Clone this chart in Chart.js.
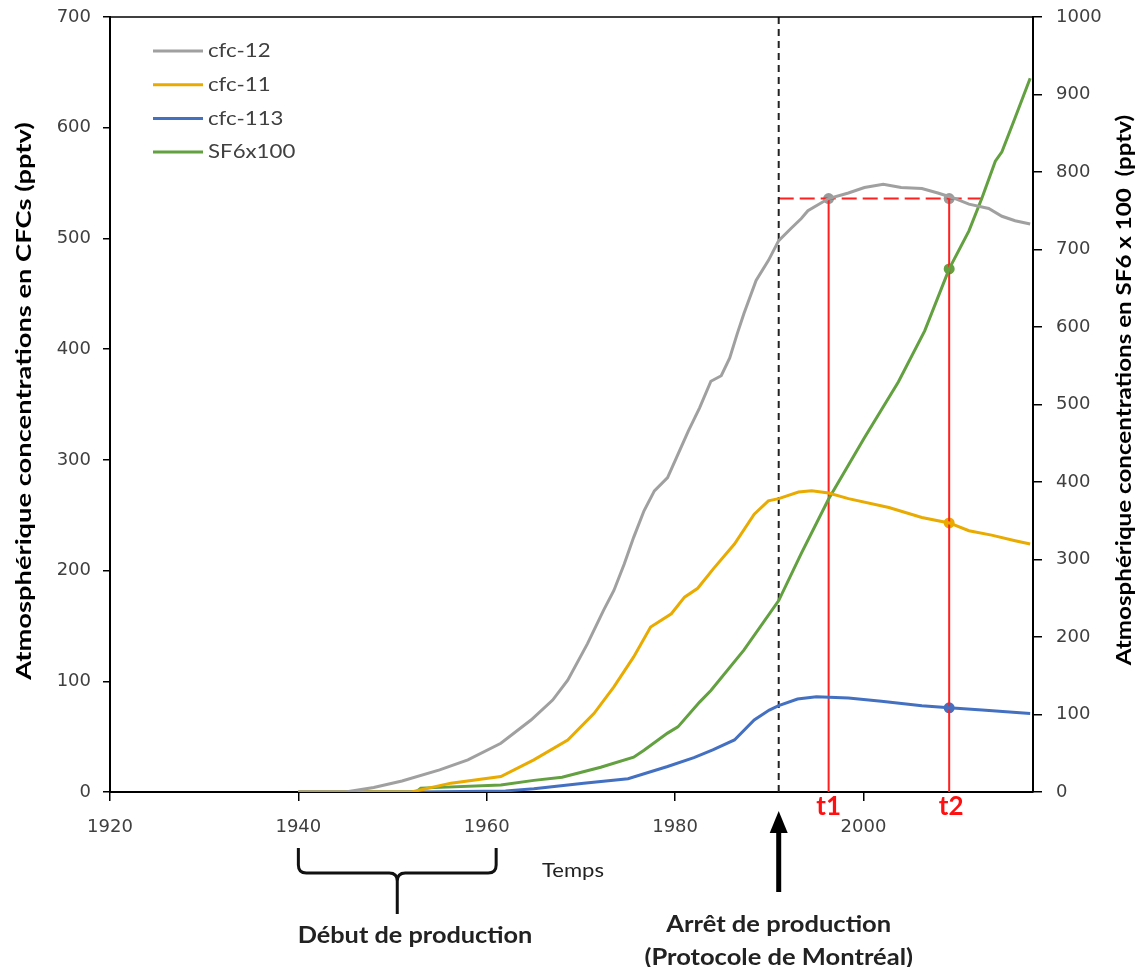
<!DOCTYPE html>
<html>
<head>
<meta charset="utf-8">
<script src="https://cdn.jsdelivr.net/npm/chart.js@4/dist/chart.umd.min.js"></script>
<style>
  body { margin: 0; background: #fff; overflow: hidden; }
  /* canvas raised a little so the plot top sits where the reference has it */
  #wrap { position: relative; width: 1145px; height: 973px; margin-top: -6px; }
</style>
</head>
<body>
<div id="wrap"><canvas id="chart"></canvas></div>
<script>
'use strict';

const SHIFT = 6; // matches the margin-top above

// cfc-12 (left axis, pptv)
const cfc12Years = [1940, 1945, 1948, 1951, 1955, 1958, 1961.5, 1964.7, 1967, 1968.6, 1970.7, 1972.4, 1973.5, 1974.6, 1975.6, 1976.7, 1977.8, 1979.2, 1980.3, 1981.4, 1982.6, 1983.8, 1984.9, 1985.8, 1986.6, 1987.3, 1988.6, 1989.9, 1991, 1992.3, 1993.4, 1994.1, 1996.3, 1998.4, 2000.1, 2002.1, 2004, 2006.2, 2007.9, 2009.4, 2011.2, 2013.3, 2014.7, 2016.1, 2017.7];
const cfc12 = [0, 0, 4, 10, 20, 29, 44, 65, 83, 101, 134, 164, 182, 206, 230, 254, 272, 284, 305, 326, 347, 371, 376, 392, 414, 432, 462, 480, 498, 509, 518, 525, 536, 541, 546, 549, 546, 545, 541, 537, 531, 527, 520, 516, 513];

// cfc-11 (left axis, pptv)
const cfc11Years = [1940, 1952, 1956.2, 1961.5, 1965, 1968.6, 1971.4, 1973.5, 1975.6, 1977.4, 1979.6, 1981, 1982.4, 1984.1, 1986.3, 1988.4, 1989.9, 1991, 1993.1, 1994.5, 1996.3, 1998.4, 2002.7, 2006.2, 2009.1, 2011.2, 2013.6, 2016.1, 2017.7];
const cfc11 = [0, 0, 8, 14, 29, 47, 71, 95, 122, 149, 161, 176, 184, 202, 224, 251, 263, 265, 271, 272, 270, 265, 257, 248, 243, 236, 232, 227, 224];

// cfc-113 (left axis, pptv)
const cfc113Years = [1940, 1952.7, 1962, 1965, 1970.3, 1975, 1979.2, 1982, 1984, 1986.3, 1988.4, 1990, 1991, 1993, 1995, 1998.4, 2001.9, 2006.2, 2009.1, 2012.6, 2017.7];
const cfc113 = [0, 0, 1, 3, 8, 12, 23, 31, 38, 47, 65, 74, 78, 84, 86, 85, 82, 78, 76, 74, 71];

// SF6 x 100 (right axis, pptv)
const sf6Years = [1940, 1952.5, 1953, 1961.5, 1965, 1968, 1972.1, 1975.6, 1976.7, 1979.2, 1980.3, 1982.6, 1983.8, 1987.3, 1991, 1993.4, 1996.3, 2000.1, 2003.7, 2006.5, 2009.1, 2011.2, 2012.6, 2014, 2014.7, 2016.1, 2017.7];
const sf6x100 = [0, 0, 5, 9, 15, 19, 32, 45, 54, 76, 84, 116, 131, 183, 247, 308, 378, 457, 529, 595, 675, 724, 767, 814, 826, 870, 921];

const seriesNames = ['cfc-12', 'cfc-11', 'cfc-113', 'SF6x100'];
const seriesColors = ['#a0a0a0', '#e9ab00', '#4470c2', '#62a040'];

// annotations
const stopYear = 1991;         // arrêt de production
const t1Year = 1996.3;
const t2Year = 2009.1;
const refLevel = 536;          // cfc-12 level at t1 and t2
const refEndYear = 2012.5;
const t2Values = { cfc11: 243, cfc113: 76, sf6: 675 };
const debutYears = [1940, 1961];

const xTicksStep = 20;
const leftTicksStep = 100;
const rightTicksStep = 100;

const pts = (xs, ys) => xs.map((x, i) => ({ x: x, y: ys[i] }));

function seriesDataset(i, data, axis) {
    return {
        label: seriesNames[i],
        data: data,
        yAxisID: axis,
        borderColor: seriesColors[i],
        backgroundColor: seriesColors[i],
        borderWidth: 3,
        pointRadius: 0,
        tension: 0,
        fill: false
    };
}

function markDataset(data, color, axis) {
    return {
        label: '_mark',
        data: data,
        yAxisID: axis,
        showLine: false,
        pointRadius: 5.5,
        pointBackgroundColor: color,
        pointBorderWidth: 0
    };
}

function ruleDataset(data, color, width, dash) {
    return {
        label: '_rule',
        data: data,
        yAxisID: 'y',
        borderColor: color,
        borderWidth: width,
        borderDash: dash || [],
        pointRadius: 0,
        tension: 0,
        fill: false
    };
}

const datasets = [
    seriesDataset(0, pts(cfc12Years, cfc12), 'y'),
    seriesDataset(1, pts(cfc11Years, cfc11), 'y'),
    seriesDataset(2, pts(cfc113Years, cfc113), 'y'),
    seriesDataset(3, pts(sf6Years, sf6x100), 'y2'),
    ruleDataset([{ x: stopYear, y: 0 }, { x: stopYear, y: 700 }], '#222', 2, [7, 5]),
    ruleDataset([{ x: stopYear, y: refLevel }, { x: refEndYear, y: refLevel }], '#ff2020', 2, [15, 6]),
    ruleDataset([{ x: t1Year, y: 0 }, { x: t1Year, y: refLevel }], '#ff2020', 2),
    ruleDataset([{ x: t2Year, y: 0 }, { x: t2Year, y: refLevel }], '#ff2020', 2),
    markDataset([{ x: t1Year, y: refLevel }, { x: t2Year, y: refLevel }], '#9a9a9a', 'y'),
    markDataset([{ x: t2Year, y: t2Values.cfc11 }], '#e9ab00', 'y'),
    markDataset([{ x: t2Year, y: t2Values.cfc113 }], '#4470c2', 'y'),
    markDataset([{ x: t2Year, y: t2Values.sf6 }], '#62a040', 'y2')
];

const FONT = 'Lato, "Open Sans", sans-serif';
const tickFont = { family: '"DejaVu Sans", sans-serif', size: 18, lineHeight: 1 };

// text stretched along its length, the reference font runs wide
function wideText(ctx, text, x, y, sx, rot) {
    ctx.save();
    ctx.translate(x, y);
    if (rot) ctx.rotate(rot);
    ctx.scale(sx, 1);
    ctx.fillText(text, 0, 0);
    ctx.restore();
}

const overlay = {
    id: 'overlay',
    afterDraw(chart) {
        const { ctx, chartArea: a, scales } = chart;
        const x = scales.x;
        ctx.save();

        // frame top
        ctx.strokeStyle = '#000';
        ctx.lineWidth = 1.5;
        ctx.beginPath();
        ctx.moveTo(a.left, a.top);
        ctx.lineTo(a.right, a.top);
        ctx.stroke();

        // everything below is placed in page coordinates
        ctx.translate(0, SHIFT);

        // legend
        ctx.font = '19px ' + FONT;
        ctx.textBaseline = 'middle';
        ctx.textAlign = 'left';
        seriesNames.forEach((name, i) => {
            const ly = 51 + i * 33.7;
            ctx.strokeStyle = seriesColors[i];
            ctx.lineWidth = 3;
            ctx.beginPath();
            ctx.moveTo(153, ly);
            ctx.lineTo(203, ly);
            ctx.stroke();
            ctx.fillStyle = '#404040';
            wideText(ctx, name, 208, ly, 1.17);
        });

        // axis titles
        ctx.fillStyle = '#000';
        ctx.font = 'bold 21px ' + FONT;
        ctx.textAlign = 'center';
        wideText(ctx, 'Atmosphérique concentrations en CFCs (pptv)', 24, 401, 1.3, -Math.PI / 2);
        wideText(ctx, 'Atmosphérique concentrations en SF6 x 100  (pptv)', 1124, 390, 1.15, -Math.PI / 2);

        // x title
        ctx.font = '19px ' + FONT;
        ctx.fillStyle = '#222';
        wideText(ctx, 'Temps', 573, 871, 1.16);

        // t1 / t2
        ctx.font = 'bold 26px ' + FONT;
        ctx.fillStyle = '#ff1010';
        ctx.fillText('t1', x.getPixelForValue(t1Year), 807);
        ctx.fillText('t2', x.getPixelForValue(t2Year) + 2, 807);

        // bracket: début de production
        const bx1 = x.getPixelForValue(debutYears[0]);
        const bx2 = x.getPixelForValue(debutYears[1]);
        const bm = (bx1 + bx2) / 2;
        ctx.strokeStyle = '#111';
        ctx.lineWidth = 3;
        ctx.beginPath();
        ctx.moveTo(bx1, 848);
        ctx.lineTo(bx1, 865);
        ctx.quadraticCurveTo(bx1, 873, bx1 + 8, 873);
        ctx.lineTo(bm - 8, 873);
        ctx.quadraticCurveTo(bm, 873, bm, 881);
        ctx.lineTo(bm, 914);
        ctx.moveTo(bx2, 848);
        ctx.lineTo(bx2, 865);
        ctx.quadraticCurveTo(bx2, 873, bx2 - 8, 873);
        ctx.lineTo(bm + 8, 873);
        ctx.quadraticCurveTo(bm, 873, bm, 881);
        ctx.stroke();
        ctx.fillStyle = '#222';
        ctx.font = 'bold 22px ' + FONT;
        wideText(ctx, 'Début de production', 415, 936, 1.15);

        // arrow: arrêt de production
        const ax = x.getPixelForValue(stopYear);
        ctx.strokeStyle = '#000';
        ctx.lineWidth = 5;
        ctx.beginPath();
        ctx.moveTo(ax, 892);
        ctx.lineTo(ax, 828);
        ctx.stroke();
        ctx.fillStyle = '#000';
        ctx.beginPath();
        ctx.moveTo(ax, 811);
        ctx.lineTo(ax + 9, 833);
        ctx.lineTo(ax - 9, 833);
        ctx.closePath();
        ctx.fill();
        ctx.fillStyle = '#222';
        wideText(ctx, 'Arrêt de production', ax, 925, 1.16);
        wideText(ctx, '(Protocole de Montréal)', ax, 958, 1.16);

        ctx.restore();
    }
};

const axisGrid = { drawOnChartArea: false, drawTicks: true, color: '#000', lineWidth: 1.5 };
const plainLabel = v => String(v);

new Chart(document.getElementById('chart'), {
    type: 'line',
    data: { datasets: datasets },
    options: {
        responsive: true,
        maintainAspectRatio: false,
        animation: false,
        events: [],
        layout: { padding: 0 },
        plugins: { legend: { display: false }, tooltip: { enabled: false } },
        scales: {
            x: {
                type: 'linear',
                min: 1920,
                max: 2018,
                ticks: { stepSize: xTicksStep, includeBounds: false, font: tickFont, color: '#404040', padding: 17, maxRotation: 0,
                         callback: plainLabel },
                grid: Object.assign({ tickLength: 9 }, axisGrid),
                border: { color: '#000', width: 2 },
                afterFit: s => { s.height = 175; }
            },
            y: {
                position: 'left',
                min: 0,
                max: 700,
                ticks: { stepSize: leftTicksStep, font: tickFont, color: '#404040', padding: 12, callback: plainLabel },
                grid: Object.assign({ tickLength: 7 }, axisGrid),
                border: { color: '#000', width: 2 },
                afterFit: s => { s.width = 110; }
            },
            y2: {
                position: 'right',
                min: 0,
                max: 1000,
                ticks: { stepSize: rightTicksStep, font: tickFont, color: '#404040', padding: 14, callback: plainLabel },
                grid: Object.assign({ tickLength: 9 }, axisGrid),
                border: { color: '#000', width: 2 },
                afterFit: s => { s.width = 112; }
            }
        }
    },
    plugins: [overlay]
});
</script>
</body>
</html>
